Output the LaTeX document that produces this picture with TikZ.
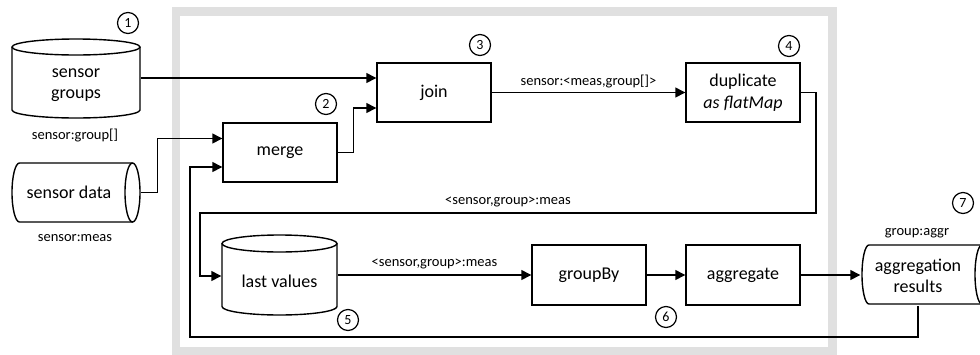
\documentclass[tikz,border=0pt]{standalone}
\usepackage{fontspec}
\setmainfont{Carlito}
\usetikzlibrary{arrows.meta}
\definecolor{framegray}{RGB}{224,224,224}
\begin{document}
\begin{tikzpicture}[x=1pt,y=-1pt,
  line width=1.4pt,
  proc/.style={draw, fill=white, minimum width=114pt, minimum height=59pt, inner sep=0pt, font=\fontsize{18}{21.6}\selectfont, align=center},
  txt/.style={inner sep=0pt, font=\fontsize{18}{21.6}\selectfont, align=center},
  lbl/.style={inner sep=0pt, font=\fontsize{14.5}{17}\selectfont},
  num/.style={draw, circle, minimum size=21pt, inner sep=0pt, line width=1.2pt, font=\fontsize{14}{16}\selectfont},
  arr/.style={-{Triangle[length=10pt,width=10pt]}},
  frame/.style={draw=framegray, line width=8.5pt}
]
\useasboundingbox (0,0) rectangle (980,354);
\draw[frame] (176,11.5) rectangle (832.5,351);

% cylinders
\draw[fill=white] (12,47) -- (12,110) arc[start angle=180,end angle=0,x radius=64,y radius=8] -- (140,47);
\draw (76,47) ellipse [x radius=64, y radius=8];
\draw[fill=white] (222,243.5) -- (222,306.5) arc[start angle=180,end angle=0,x radius=57.5,y radius=8.5] -- (337,243.5);
\draw (279.5,243.5) ellipse [x radius=57.5,y radius=8.5];
\draw[fill=white] (132.5,163) -- (19.5,163) arc[start angle=270,end angle=90,x radius=7.5,y radius=29.5] -- (132.5,222);
\draw (132.5,192.5) ellipse [x radius=7.5,y radius=29.5];
\draw[fill=white] (982,245) -- (869,245) arc[start angle=270,end angle=90,x radius=7,y radius=29.5] -- (982,304);
\draw (982,274.5) ellipse [x radius=7,y radius=29.5];

% texts of stores
\node[txt, minimum width=128pt] (sg) at (76,85) {sensor\\groups};
\node[txt, minimum width=142pt] (sd) at (69,192.5) {sensor data};
\node[txt, minimum width=115pt] (lv) at (279.5,281) {last values};
\node[txt, minimum width=114pt, minimum height=59pt] (ar) at (918,276) {aggregation\\results};

% process boxes
\node[proc] (merge) at (280,152.5) {merge};
\node[proc] (join) at (434,92.5) {join};
\node[proc] (dup) at (743,92.5) {duplicate\\\textit{as flatMap}};
\node[proc, minimum height=60pt] (gb) at (589,275) {groupBy};
\node[proc, minimum height=60pt] (agg) at (743,275) {aggregate};

% labels
\node[lbl] (l1) at (75,136) {sensor:group[]};
\node[lbl] (l2) at (75,238) {sensor:meas};
\node[lbl] (l3) at (917,233) {group:aggr};

% numbers
\node[num] (n1) at (128,23) {1};
\node[num] (n2) at (326,104) {2};
\node[num] (n3) at (480,45) {3};
\node[num] (n4) at (789,46) {4};
\node[num] (n5) at (348,320) {5};
\node[num] (n6) at (666,317) {6};
\node[num] (n7) at (963,203) {7};

% connectors
\coordinate (c1) at (816,213);
\coordinate (c2) at (200,213);
\coordinate (f1) at (190,337);
\draw[arr] ([yshift=7pt]sg.east) -- ([yshift=7pt]sg.east -| join.west);
\draw[arr] (sd.east) -- ++(17,0) |- ([yshift=14pt]merge.west);
\draw[arr] (merge.east) -- ++(15.5,0) |- ([yshift=-15.5pt]join.west);
\draw[arr] (join) -- node[lbl, above=4pt]{sensor:<meas,group[]>} (dup);
\draw[arr] (dup.east) -| (c1) -- node[lbl, above=5pt]{<sensor,group>:meas} (c2) |- ([yshift=5pt]lv.west);
\draw[arr] ([yshift=6pt]lv.east) -- node[lbl, above=5pt]{<sensor,group>:meas} ([yshift=6pt]lv.east -| gb.west);
\draw[arr] (gb) -- (agg);
\draw[arr] (agg) -- (agg -| ar.west);
\draw[arr] (ar.south) |- (f1) |- ([yshift=-14.5pt]merge.west);
\end{tikzpicture}
\end{document}
